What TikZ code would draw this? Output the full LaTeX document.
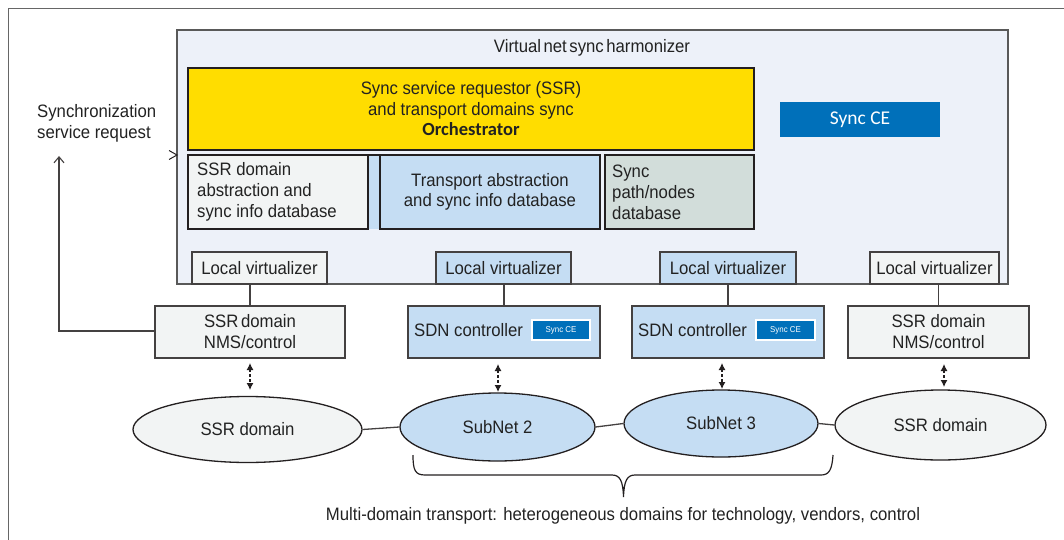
\documentclass[tikz,border=0pt]{standalone}
\usepackage{fontspec}
\setmainfont{Liberation Sans}[FakeStretch=0.93]
\newfontfamily\carlito{Carlito}
\usetikzlibrary{arrows.meta,shapes.geometric}
\definecolor{hbg}{HTML}{EDF1F9}
\definecolor{yel}{HTML}{FFDD00}
\definecolor{lgray}{HTML}{F2F4F4}
\definecolor{lblue}{HTML}{C5DDF3}
\definecolor{pgray}{HTML}{D2DDDA}
\definecolor{cblue}{HTML}{0070BA}
\definecolor{ink}{HTML}{231F20}
\definecolor{txt}{HTML}{222222}
\begin{document}
\begin{tikzpicture}[x=1pt,y=-1pt,
  font=\fontsize{18}{21}\selectfont, text=txt,
  thickbox/.style={draw=ink, line width=2.4pt, inner sep=0pt},
  thinbox/.style={draw=ink!85, line width=1.3pt, inner sep=0pt},
  lvbox/.style={thinbox, minimum height=32pt},
  ctrlbox/.style={thinbox, minimum height=52pt},
  ellnode/.style={ellipse, draw=ink, line width=1.3pt, inner sep=0pt},
  conn/.style={draw=ink!85, line width=1.3pt},
  dblarrow/.style={draw=ink, line width=1.1pt, dash pattern=on 3pt off 2pt,
     {Latex[length=7pt,width=7pt]}-{Latex[length=7pt,width=7pt]}},
  tight/.style={execute at begin node={\spaceskip=0.14em\relax}},
  semitight/.style={execute at begin node={\spaceskip=0.26em\relax}}
]
\useasboundingbox (0,0) rectangle (1064,540);
% outer frame (open at right and bottom)
\draw[draw=black!60, line width=1pt] (1064,9) -- (8,9) -- (8,540);

% harmonizer
\node[draw=black!65, line width=1.5pt, fill=hbg, minimum width=831pt, minimum height=254pt, inner sep=0pt] (harm) at (592.5,157) {};
\node[tight] (htitle) at (592,48) {Virtual net sync harmonizer};

% orchestrator
\node[thickbox, fill=yel, minimum width=566pt, minimum height=82pt, align=center,
  font=\fontsize{18}{20.5}\selectfont] (orch) at (471,109)
  {Sync service requestor (SSR)\\and transport domains sync\\{\carlito\bfseries\fontsize{18.5}{20.5}\selectfont Orchestrator}};

% databases
\fill[lblue] (368,155) rectangle (380,229);
\draw[draw=ink, line width=2.4pt] (188,155) -- (600,155);
\node[thickbox, fill=lgray, minimum width=180pt, minimum height=74pt] (ssrdb) at (278,192) {};
\node[anchor=west, align=left, inner sep=0pt] (ssrdbt) at (197,192) {SSR domain\\abstraction and\\sync info database};
\node[thickbox, fill=lblue, minimum width=220pt, minimum height=74pt, align=center,
  font=\fontsize{18}{20.5}\selectfont] (transdb) at (490,192) {Transport abstraction\\and sync info database};
\node[thickbox, fill=pgray, minimum width=149pt, minimum height=74pt] (pathdb) at (679.5,192) {};
\node[anchor=west, align=left, inner sep=0pt] (pathdbt) at (612,192) {Sync\\path/nodes\\database};

% Sync CE
\node[fill=cblue, text=white, minimum width=160pt, minimum height=35pt, inner sep=0pt,
  font=\carlito\fontsize{19.5}{22}\selectfont] (synce) at (860,119.5) {Sync CE};

% request arrowhead at harmonizer
\draw[draw=ink, line width=1pt] (169,150.5) -- (177,155) -- (169,159.5);

% local virtualizers
\node[lvbox, fill=lgray, minimum width=135pt] (lv1) at (259.5,268) {Local virtualizer};
\node[lvbox, fill=lblue, minimum width=135pt] (lv2) at (503.5,268) {Local virtualizer};
\node[lvbox, fill=lblue, minimum width=136pt] (lv3) at (728,268) {Local virtualizer};
\node[lvbox, fill=lgray, minimum width=129pt] (lv4) at (934.5,268) {Local virtualizer};

% controllers
\node[ctrlbox, fill=lgray, minimum width=190pt, align=center, tight] (c1) at (250,332) {SSR domain\\NMS/control};
\node[ctrlbox, fill=lblue, minimum width=192pt] (c2) at (504,332) {};
\node[ctrlbox, fill=lblue, minimum width=192pt] (c3) at (728,332) {};
\node[ctrlbox, fill=lgray, minimum width=181pt, align=center] (c4) at (938.5,332) {SSR domain\\NMS/control};
\node[anchor=west, inner sep=0pt] (c2t) at (414,330) {SDN controller};
\node[anchor=west, inner sep=0pt] (c3t) at (638,330) {SDN controller};
\node[fill=cblue, draw=white, line width=1.2pt, text=white, minimum width=58pt, minimum height=20pt,
  inner sep=0pt, font=\fontsize{8.5}{9}\selectfont] (sce2) at (561,330) {Sync CE};
\node[fill=cblue, draw=white, line width=1.2pt, text=white, minimum width=59pt, minimum height=20pt,
  inner sep=0pt, font=\fontsize{8.5}{9}\selectfont] (sce3) at (785.5,330) {Sync CE};

% links virtualizer - controller
\draw[conn] (c1.north) -- (c1.north |- lv1.south);
\draw[conn] (c2.north) -- (c2.north |- lv2.south);
\draw[conn] (c3.north) -- (c3.north |- lv3.south);
\draw[conn] (c4.north) -- (c4.north |- lv4.south);

% ellipses
\node[ellnode, fill=lgray, minimum width=229pt, minimum height=66pt] (e1) at (247.5,429.5) {SSR domain};
\node[ellnode, fill=lblue, minimum width=195pt, minimum height=68pt] (e2) at (497.5,427) {SubNet 2};
\node[ellnode, fill=lblue, minimum width=194pt, minimum height=67pt] (e3) at (721,423.5) {SubNet 3};
\node[ellnode, fill=lgray, minimum width=211pt, minimum height=70pt] (e4) at (940.5,425) {SSR domain};

% links between domains
\draw[conn] (e1.east) -- (e2.west);
\draw[conn] (e2.east) -- (e3.west);
\draw[conn] (e3.east) -- (e4.west);

% controller - domain arrows
\coordinate (a1t) at (250,363); \coordinate (a1b) at (250,390);
\coordinate (a2t) at (498,364); \coordinate (a2b) at (498,392);
\coordinate (a3t) at (722,363); \coordinate (a3b) at (722,389);
\coordinate (a4t) at (944,364); \coordinate (a4b) at (944,387);
\draw[dblarrow] (a1t) -- (a1b);
\draw[dblarrow] (a2t) -- (a2b);
\draw[dblarrow] (a3t) -- (a3b);
\draw[dblarrow] (a4t) -- (a4b);

% synchronization service request
\node[align=left, inner sep=0pt, anchor=west] (ssreq) at (37,123) {Synchronization\\service request};
\coordinate (reqturn) at (59,331);
\coordinate (reqtip) at (59,156);
\draw[conn, -{Straight Barb[length=6pt,width=10pt,line width=1.1pt]}] (c1.west |- reqturn) -- (reqturn) -- (reqtip);

% brace
\draw[draw=ink, line width=1.2pt]
  (413,455) .. controls (413,470) and (415,475) .. (425,475) -- (612,475)
  .. controls (620,475) and (623,481) .. (623.5,497)
  .. controls (624,481) and (627,475) .. (635,475) -- (821,475)
  .. controls (829,475) and (832,470) .. (833,455);

\node[semitight] (mdt) at (623,516) {Multi-domain transport: heterogeneous domains for technology, vendors, control};
\end{tikzpicture}
\end{document}
